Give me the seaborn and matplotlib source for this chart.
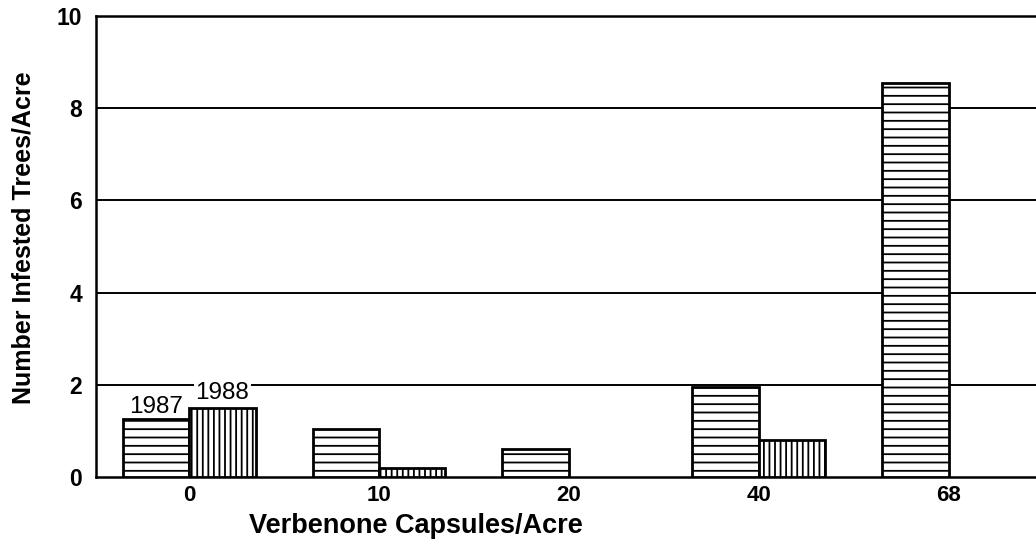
import matplotlib
matplotlib.use("Agg")
import matplotlib.pyplot as plt
import seaborn as sns
import pandas as pd

# values
capsules = ["0", "10", "20", "40", "68"]
trees_1987 = [1.25, 1.05, 0.6, 1.95, 8.55]
trees_1988 = [1.5, 0.2, 0.0, 0.8, 0.0]
years = ["1987", "1988"]
hatches = ["--", "|||"]

df = pd.DataFrame({
    "capsules": capsules * 2,
    "trees": trees_1987 + trees_1988,
    "year": [years[0]] * len(capsules) + [years[1]] * len(capsules),
})

sns.set_style("white")
plt.rcParams["font.family"] = ["Liberation Sans", "DejaVu Sans"]
plt.rcParams["hatch.linewidth"] = 1.3
plt.rcParams["text.color"] = "black"
plt.rcParams["axes.labelcolor"] = "black"
plt.rcParams["xtick.color"] = "black"
plt.rcParams["ytick.color"] = "black"

fig = plt.figure(figsize=(10.36, 5.44), dpi=100)
ax = fig.add_axes([0.0927, 0.123, 0.9073, 0.848])

sns.barplot(
    data=df, x="capsules", y="trees", hue="year",
    order=capsules, hue_order=years,
    palette=["white", "white"], edgecolor="black", linewidth=2.0,
    width=0.7, legend=False, ax=ax,
)

for cont, h in zip(ax.containers, hatches):
    for bar in cont:
        bar.set_hatch(h)
        bar.set_zorder(3)
        if bar.get_height() == 0:
            bar.set_visible(False)

# label the first pair of bars
b0 = ax.containers[0][0]
ax.text(b0.get_x() + b0.get_width() / 2, trees_1987[0] + 0.03, years[0],
        ha="center", va="bottom", fontsize=17.5, zorder=4)
b1 = ax.containers[1][0]
ax.text(b1.get_x() + b1.get_width() / 2, trees_1988[0] + 0.08, years[1],
        ha="center", va="bottom", fontsize=17.5, zorder=4,
        bbox=dict(facecolor="white", edgecolor="none", pad=1))

ax.set_ylim(0, 10)
ax.set_xlim(-0.49, 4.46)
ax.set_yticks([0, 2, 4, 6, 8, 10])
for y in [2, 4, 6, 8]:
    ax.axhline(y, color="black", linewidth=1.4, zorder=1)

for side in ["left", "top", "bottom"]:
    ax.spines[side].set_color("black")
    ax.spines[side].set_linewidth(1.8)
ax.spines["right"].set_visible(False)

ax.tick_params(axis="x", length=0, pad=6, labelsize=16)
ax.tick_params(axis="y", length=0, pad=10, labelsize=16.5)
for lab in ax.get_xticklabels() + ax.get_yticklabels():
    lab.set_fontweight("bold")

ax.set_xlabel("Verbenone Capsules/Acre", fontsize=19.5, fontweight="bold")
ax.set_ylabel("Number Infested Trees/Acre", fontsize=18, fontweight="bold")
ax.xaxis.set_label_coords(0.34, -0.077)
ax.yaxis.set_label_coords(-0.064, 0.52)

fig.savefig("out.png", dpi=100)
